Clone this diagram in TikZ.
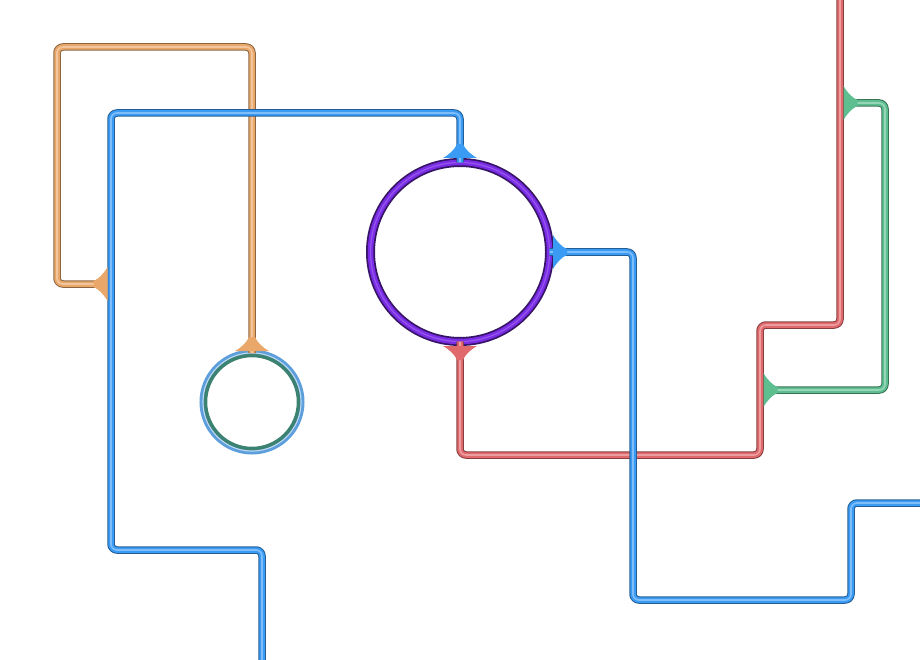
\documentclass[tikz,border=0pt]{standalone}
\usetikzlibrary{calc}
\definecolor{pipeorange}{HTML}{E9A86A}
\definecolor{pipeblue}{HTML}{3A9BF5}
\definecolor{pipered}{HTML}{E0696C}
\definecolor{pipegreen}{HTML}{5DBE90}
\definecolor{hubviolet}{HTML}{7A2CE6}
\definecolor{ringblue}{HTML}{5C9FDC}
\definecolor{ringteal}{HTML}{3C8272}

\tikzset{
  tube/.style={draw=#1, line width=5.5pt, rounded corners=6pt,
    preaction={draw=#1!60!black, line width=7.5pt},
    postaction={draw=#1!65!white, line width=1.6pt}},
  hubring/.style={circle, inner sep=0pt, outer sep=0pt, minimum size=179pt,
    draw=hubviolet!45!black, line width=9pt,
    postaction={draw=hubviolet, line width=5.5pt},
    postaction={draw=hubviolet!80!white, line width=1.2pt}},
  tankring/.style={circle, inner sep=0pt, outer sep=0pt, minimum size=98pt,
    draw=ringblue, line width=7pt,
    postaction={draw=ringblue!40!white, line width=1.2pt}},
  pics/flare/.style={code={
    \fill[#1] (-17,0) .. controls (-10,4) and (-5,9) .. (-3,14)
      -- (3,14) .. controls (5,9) and (10,4) .. (17,0) -- cycle;}}
}

\begin{document}
\begin{tikzpicture}[x=1pt,y=-1pt]
\useasboundingbox (0,0) rectangle (920,660);

% the two vessels
\node[hubring] (hub) at (460,252) {};
\node[tankring] (tank) at (252,402) {};
\draw[ringteal, line width=3.5pt] (tank.center) circle (46.5);

% bends
\coordinate (o1) at (100,284);
\coordinate (b0) at (262,660);
\coordinate (b9) at (920,503);
\coordinate (r9) at (840,0);
\coordinate (g1) at (850,103);
\coordinate (g9) at (770,390);

% pipes
\draw[tube=pipeorange] (o1) -- (57,284) -- (57,47) -- (252,47) -- (tank.north);
\draw[tube=pipegreen] (g1) -- (885,103) -- (885,390) -- (g9);
\draw[tube=pipered] (hub.south) -- (460,455) -- (760,455) -- (760,325)
  -- (840,325) -- (r9);
\draw[tube=pipeblue] (b0) -- (262,550) -- (111,550) -- (111,113)
  -- (460,113) -- (hub.north);
\draw[tube=pipeblue] (hub.east) -- (633,252) -- (633,600) -- (851,600)
  -- (851,503) -- (b9);

% joints
\pic[rotate=-90] at (107.5,284) {flare=pipeorange};
\pic[rotate=180] at (252,351) {flare=pipeorange};
\pic[rotate=180] at (460,158) {flare=pipeblue};
\pic[rotate=90] at (553,252) {flare=pipeblue};
\pic at (460,346) {flare=pipered};
\pic[rotate=90] at (843.5,103) {flare=pipegreen};
\pic[rotate=90] at (763.5,390) {flare=pipegreen};
\end{tikzpicture}
\end{document}
